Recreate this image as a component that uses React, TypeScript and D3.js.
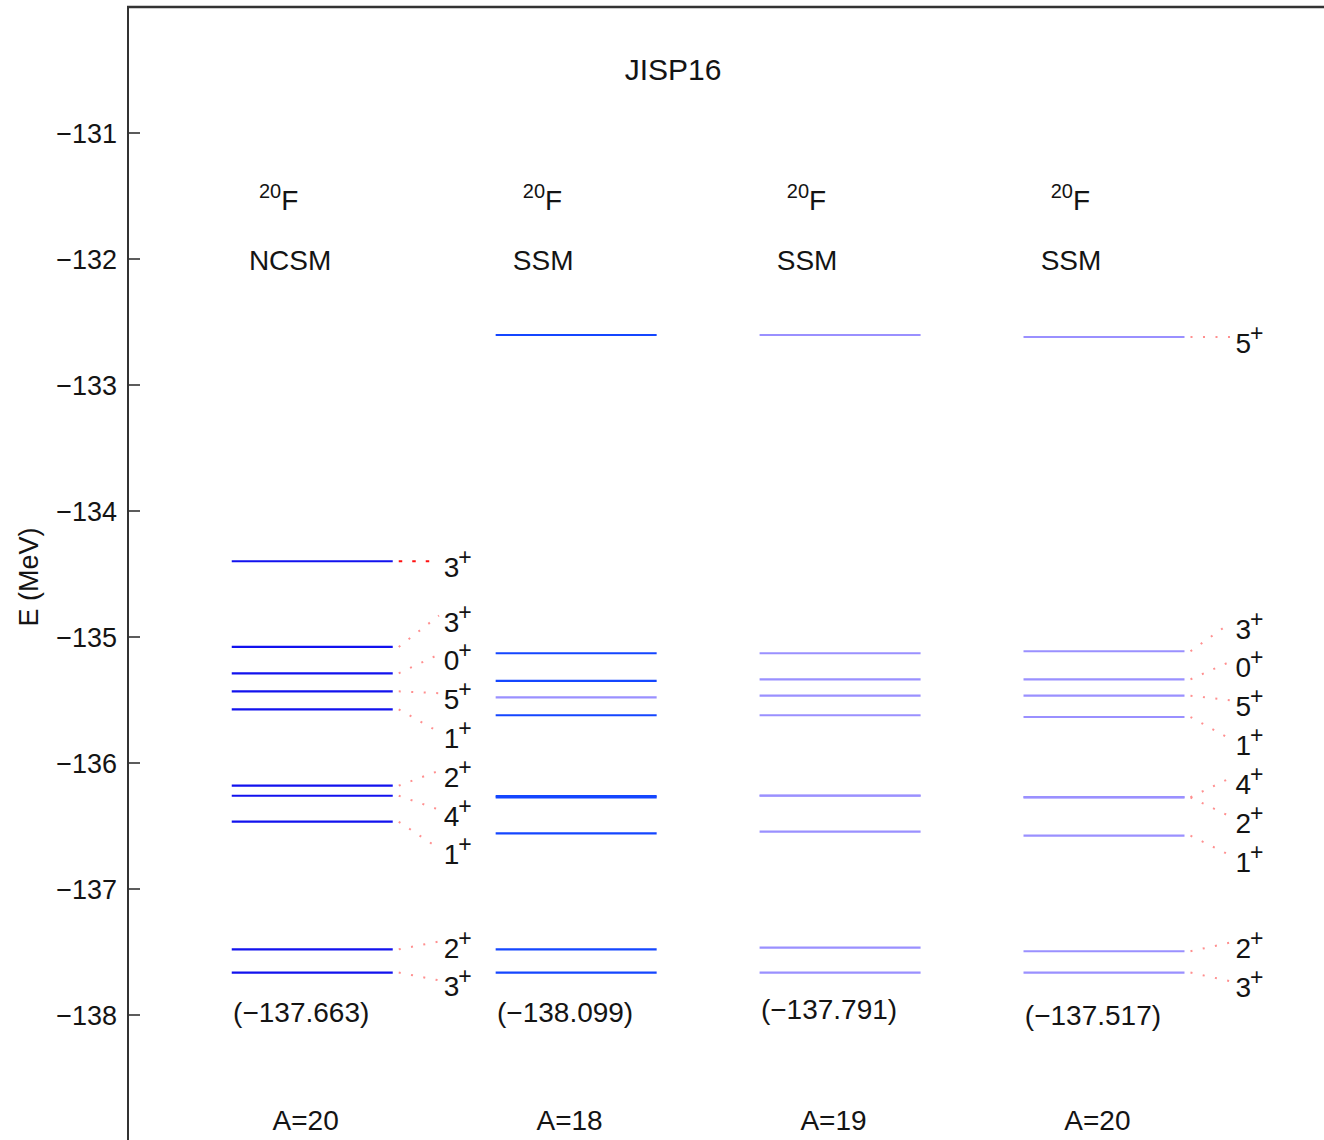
import React from "react";
import * as d3 from "d3";

// Level scheme of 20F: NCSM vs. SSM with effective interactions derived for A=18, 19, 20
const title = "JISP16";
const nucleusMass = "20";
const nucleusSymbol = "F";
const columnMethods = ["NCSM", "SSM", "SSM", "SSM"];
const columnMassLabels = ["A=20", "A=18", "A=19", "A=20"];
const groundStateEnergies = [-137.663, -138.099, -137.791, -137.517];

// Excitation energies (MeV) and spins (all positive parity) per column
const ncsmExcitation = [0, 0.184, 1.197, 1.403, 1.483, 2.089, 2.232, 2.375, 2.584, 3.264];
const ncsmSpins = [3, 2, 1, 4, 2, 1, 5, 0, 3, 3];
const ssmA18Excitation = [0, 0.184, 1.105, 1.39, 1.4, 2.042, 2.184, 2.314, 2.534, 5.06];
const ssmA18Spins = [3, 2, 1, 2, 4, 1, 5, 0, 3, 5];
const ssmA19Excitation = [0, 0.197, 1.118, 1.403, 1.405, 2.042, 2.197, 2.327, 2.534, 5.06];
const ssmA19Spins = [3, 2, 1, 2, 4, 1, 5, 0, 3, 5];
const ssmA20Excitation = [0, 0.169, 1.086, 1.39, 1.392, 2.028, 2.197, 2.327, 2.55, 5.044];
const ssmA20Spins = [3, 2, 1, 2, 4, 1, 5, 0, 3, 5];

const yTicks = [-138, -137, -136, -135, -134, -133, -132, -131];

const columnExcitations = [ncsmExcitation, ssmA18Excitation, ssmA19Excitation, ssmA20Excitation];
const columnSpins = [ncsmSpins, ssmA18Spins, ssmA19Spins, ssmA20Spins];
const labeledColumns = [true, false, false, true];

// styling
const FONT = '"Liberation Sans", Arial, Helvetica, sans-serif';
const AXIS_COLOR = "#333333";
const TEXT_COLOR = "#141414";
const columnLineColor = ["#1212ee", "#1446ff", "#9a90ff", "#9a90ff"];
const paleLevelInA18 = 6; // the 5+ level of the A=18 column is drawn pale
const emphasizedConnector = { column: 0, index: 9 };
const groundLabelShift = [0, 0, -3, 3];

const W = 1324;
const H = 1140;

const x = d3.scaleLinear().domain([0.3, 4]).range([127.5, 1104]);
const y = d3.scaleLinear().domain([-139, -130]).range([1141, 7]);

const HALF = 0.305; // half length of a level bar (column units)
const LABEL_GAP = 0.308; // minimum spacing of spin labels (MeV)

// spread labels so they never overlap: overlapping neighbours are merged into
// clusters centred on the mean energy of their members
function spreadLabels(levels: number[], gap: number): number[] {
  const order = levels.map((e, i) => ({ e, i })).sort((a, b) => a.e - b.e || a.i - b.i);
  let clusters = order.map((o) => ({ members: [o], center: o.e }));
  let merged = true;
  while (merged) {
    merged = false;
    for (let k = 0; k < clusters.length - 1; k++) {
      const a = clusters[k];
      const b = clusters[k + 1];
      const aTop = a.center + ((a.members.length - 1) / 2) * gap;
      const bBot = b.center - ((b.members.length - 1) / 2) * gap;
      if (bBot - aTop < gap - 1e-9) {
        const members = a.members.concat(b.members);
        const center = d3.mean(members, (m) => m.e) as number;
        clusters.splice(k, 2, { members, center });
        merged = true;
        break;
      }
    }
  }
  const out = new Array(levels.length).fill(0);
  clusters.forEach((c) => {
    const n = c.members.length;
    c.members.forEach((m, k) => {
      out[m.i] = c.center + (k - (n - 1) / 2) * gap;
    });
  });
  return out;
}

const fmtEnergy = d3.format(".3f");
const fmtTick = d3.format("d");

export default function App() {
  const reference = groundStateEnergies[0];
  const columns = columnExcitations.map((ex, c) => {
    const energies = ex.map((e) => reference + e);
    const anchors = labeledColumns[c] ? spreadLabels(energies, LABEL_GAP) : [];
    return { c, pos: c + 1, energies, anchors, spins: columnSpins[c] };
  });

  return (
    <div style={{ position: "absolute", left: 0, top: 0 }}>
      <svg width={W} height={H} style={{ display: "block", background: "#fff" }} fontFamily={FONT}>
        <rect x={0} y={0} width={W} height={H} fill="#fff" />

        {/* frame */}
        <line x1={128} x2={128} y1={y(-130) - 1} y2={H} stroke={AXIS_COLOR} strokeWidth={2} />
        <line x1={127} x2={W} y1={y(-130)} y2={y(-130)} stroke={AXIS_COLOR} strokeWidth={2.5} />

        {/* y axis */}
        {yTicks.map((t) => (
          <g key={t}>
            <line x1={128} x2={140} y1={y(t)} y2={y(t)} stroke={AXIS_COLOR} strokeWidth={1.6} />
            <text x={117} y={y(t) + 10} textAnchor="end" fontSize={27} fill={TEXT_COLOR}>
              {fmtTick(t)}
            </text>
          </g>
        ))}
        <text
          transform={`translate(38, 577) rotate(-90)`}
          textAnchor="middle"
          fontSize={27}
          fill={TEXT_COLOR}
        >
          E (MeV)
        </text>

        {/* title */}
        <text x={673} y={80} textAnchor="middle" fontSize={30} fill={TEXT_COLOR}>
          {title}
        </text>

        {columns.map((col) => {
          const cx = x(col.pos);
          const unit = x(1) - x(0);
          return (
            <g key={col.c}>
              {/* headers */}
              <text x={cx - 0.202 * unit} y={210} fontSize={28} fill={TEXT_COLOR}>
                <tspan fontSize={20} dy={-12}>{nucleusMass}</tspan>
                <tspan dy={12}>{nucleusSymbol}</tspan>
              </text>
              <text x={cx - 0.24 * unit} y={270} fontSize={28} fill={TEXT_COLOR}>
                {columnMethods[col.c]}
              </text>

              {/* connectors to spin labels */}
              {col.anchors.map((a, i) => {
                const strong = emphasizedConnector.column === col.c && emphasizedConnector.index === i;
                return (
                  <line
                    key={`d${i}`}
                    x1={x(col.pos + HALF) + 6}
                    y1={y(col.energies[i])}
                    x2={x(col.pos + 0.48)}
                    y2={y(a)}
                    stroke={strong ? "#ff1010" : "#ff8f8f"}
                    strokeWidth={strong ? 2.2 : 2}
                    strokeDasharray={strong ? "3.5 10" : "2 10.5"}
                  />
                );
              })}

              {/* levels */}
              {col.energies.map((e, i) => {
                const pale = col.c === 1 && i === paleLevelInA18;
                return (
                  <line
                    key={`l${i}`}
                    x1={x(col.pos - HALF)}
                    x2={x(col.pos + HALF)}
                    y1={y(e)}
                    y2={y(e)}
                    stroke={pale ? columnLineColor[2] : columnLineColor[col.c]}
                    strokeWidth={2.2}
                  />
                );
              })}

              {/* spin labels */}
              {col.anchors.map((a, i) => (
                <text key={`s${i}`} x={x(col.pos + 0.498)} y={y(a) + 16} fontSize={28} fill={TEXT_COLOR}>
                  {col.spins[i]}
                  <tspan fontSize={23} dx={-1} dy={-12}>+</tspan>
                </text>
              ))}

              {/* ground-state energy */}
              <text x={x(col.pos - 0.3)} y={1022 + groundLabelShift[col.c]} fontSize={28} fill={TEXT_COLOR}>
                {`(${fmtEnergy(groundStateEnergies[col.c])})`}
              </text>

              {/* mass number of the interaction */}
              <text x={x(col.pos - 0.025)} y={1130} textAnchor="middle" fontSize={28} fill={TEXT_COLOR}>
                {columnMassLabels[col.c]}
              </text>
            </g>
          );
        })}
      </svg>
    </div>
  );
}
